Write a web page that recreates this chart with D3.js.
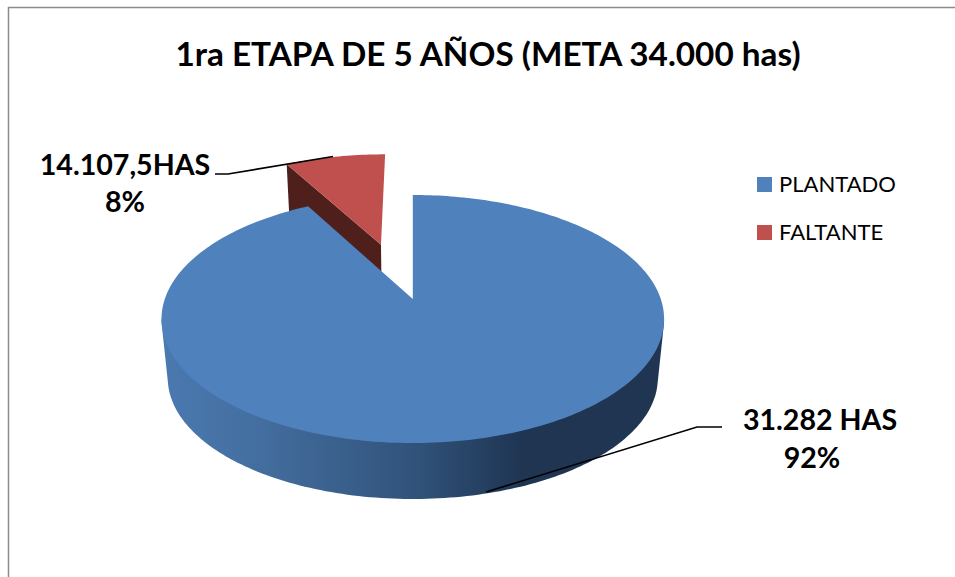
<!DOCTYPE html>
<html>
<head>
<meta charset="utf-8">
<title>1ra etapa de 5 años</title>
<script src="https://cdn.jsdelivr.net/npm/d3@7"></script>
<style>
    html, body { margin: 0; padding: 0; background: #fff; overflow: hidden; }
    text { font-family: Lato, "Noto Sans", sans-serif; fill: #000; }
</style>
</head>
<body>
<div id="chart"></div>
<script>
const titleText = "1ra ETAPA DE 5 AÑOS (META 34.000 has)";
const categories = ["PLANTADO", "FALTANTE"];
const shares = [92, 8];
const hectareLabels = ["31.282 HAS", "14.107,5HAS"];
const shareLabels = ["92%", "8%"];
const colors = ["#4f81bd", "#c0504d"];

const width = 955;
const height = 577;

// flat disc seen in perspective: a plane point goes through a homography
const cam = { x0: 412.8, y0: 299, a: 248, b: 120.8, k: 0.1613, drop: 59.6, shrink: 0.975 };
const explode = 0.5;

function project(px, py, lower) {
    const w = 1 + cam.k * py;
    const s = lower ? cam.shrink : 1;
    return [
        cam.x0 + s * cam.a * px / w,
        cam.y0 + (lower ? cam.drop : 0) - s * cam.b * py / w,
    ];
}

function rimPoints(start, end, lower, ox = 0, oy = 0) {
    const n = Math.max(2, Math.ceil((end - start) / 0.02));
    return d3.range(n + 1).map((i) => {
        const t = start + (end - start) * i / n;
        return project(ox + Math.sin(t), oy + Math.cos(t), lower);
    });
}

const svg = d3.select("#chart").append("svg")
    .attr("width", width)
    .attr("height", height);

// chart area frame, only top and left fall inside the crop
svg.append("path")
    .attr("d", `M8.5,${height + 2}V7.5H${width + 2}`)
    .attr("fill", "none")
    .attr("stroke", "#8c8c8c")
    .attr("stroke-width", 1.5);

svg.append("text")
    .attr("x", 488)
    .attr("y", 66)
    .attr("text-anchor", "middle")
    .attr("font-size", 33.3)
    .attr("font-weight", 700)
    .text(titleText);

const arcs = d3.pie().value((d) => d).sort(null)(shares);
const blue = arcs[0];
const red = arcs[1];

// gradient on the blue wall
const defs = svg.append("defs");
const grad = defs.append("linearGradient")
    .attr("id", "wall")
    .attr("gradientUnits", "userSpaceOnUse")
    .attr("x1", 165).attr("x2", 662).attr("y1", 0).attr("y2", 0);
[[0, "#4a79b0"], [0.2, "#436d9e"], [0.5, "#31537b"], [0.72, "#1f3552"], [1, "#1f3552"]].forEach(([o, c]) => {
    grad.append("stop").attr("offset", o).attr("stop-color", c);
});

// exploded red slice, pushed a little further sideways than the bisector
const mid = (red.startAngle + red.endAngle) / 2;
const ox = explode * Math.sin(mid) - 0.014;
const oy = explode * Math.cos(mid);
const redApexTop = project(ox, oy, false);
const redApexLow = project(ox, oy, true);
const redTip = [ox + Math.sin(red.startAngle), oy + Math.cos(red.startAngle)];

svg.append("path")
    .attr("d", d3.line()([redApexTop, project(redTip[0], redTip[1], false), project(redTip[0], redTip[1], true), redApexLow]) + "Z")
    .attr("fill", "#4f1f1c");

svg.append("path")
    .attr("d", d3.line()([redApexTop, ...rimPoints(red.startAngle, red.endAngle, false, ox, oy)]) + "Z")
    .attr("fill", colors[1]);

// blue wall, hull of the front half of the top and bottom rims
const silhouette = Math.acos(-cam.k);
const wallPoints = rimPoints(silhouette, 2 * Math.PI - silhouette, false)
    .concat(rimPoints(silhouette, 2 * Math.PI - silhouette, true));
svg.append("path")
    .attr("d", d3.line()(d3.polygonHull(wallPoints)) + "Z")
    .attr("fill", "url(#wall)");

// blue top face
svg.append("path")
    .attr("d", d3.line()([project(0, 0, false), ...rimPoints(blue.startAngle, blue.endAngle, false)]) + "Z")
    .attr("fill", colors[0]);

// leader lines
const leaders = [
    [[486, 492], [697, 427], [722, 427]],
    [[215, 174], [228, 174], [333, 156.5]],
];
svg.selectAll(".leader").data(leaders).enter().append("path")
    .attr("class", "leader")
    .attr("d", (d) => d3.line()(d))
    .attr("fill", "none")
    .attr("stroke", "#000")
    .attr("stroke-width", 1.6);

// data labels
const labelPos = [
    { x: 820, y1: 430, x2: 812, y2: 468 },
    { x: 125, y1: 175, x2: 125, y2: 212 },
];
const labels = svg.selectAll(".data-label").data(categories).enter().append("g")
    .attr("class", "data-label")
    .attr("font-size", 28.6)
    .attr("font-weight", 700)
    .attr("text-anchor", "middle");
labels.append("text")
    .attr("x", (d, i) => labelPos[i].x)
    .attr("y", (d, i) => labelPos[i].y1)
    .text((d, i) => hectareLabels[i]);
labels.append("text")
    .attr("x", (d, i) => labelPos[i].x2)
    .attr("y", (d, i) => labelPos[i].y2)
    .text((d, i) => shareLabels[i]);

// legend
const legend = svg.selectAll(".legend-item").data(categories).enter().append("g")
    .attr("class", "legend-item")
    .attr("transform", (d, i) => `translate(757,${177 + i * 48})`);
legend.append("rect")
    .attr("width", 15)
    .attr("height", 15)
    .attr("fill", (d, i) => colors[i]);
legend.append("text")
    .attr("x", 22)
    .attr("y", 15)
    .attr("font-size", 22)
    .text((d) => d);
</script>
</body>
</html>
